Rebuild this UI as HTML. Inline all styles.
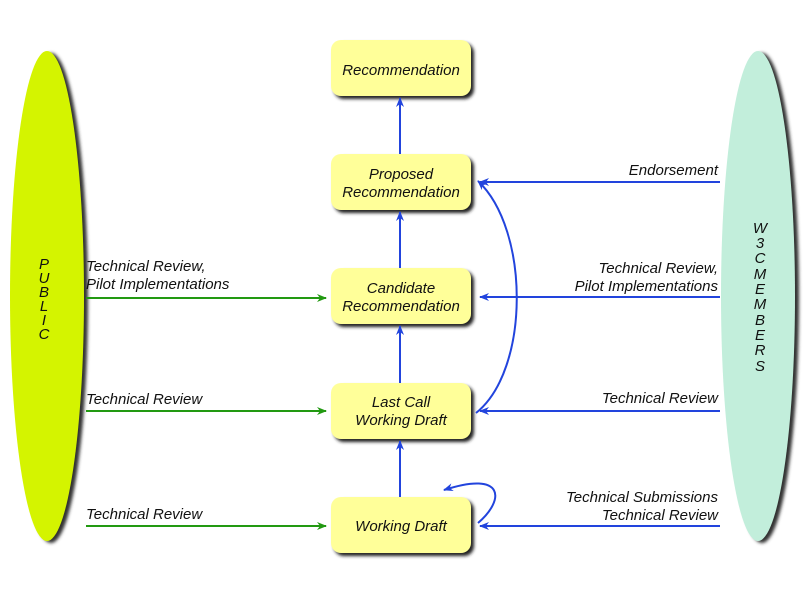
<!DOCTYPE html>
<html><head><style>
body{margin:0;background:#fff;width:803px;height:590px;overflow:hidden}
svg text{font-family:"Liberation Sans",sans-serif;font-style:italic;font-size:15px;fill:#111}
</style></head><body>
<svg width="803" height="590" viewBox="0 0 803 590">
<defs>
<marker id="b" markerWidth="10" markerHeight="10" refX="9" refY="5" orient="auto" markerUnits="userSpaceOnUse"><path d="M0,1 L10,5 L0,9 L3,5 z" fill="#2244dd"/></marker>
<marker id="g" markerWidth="10" markerHeight="10" refX="9" refY="5" orient="auto" markerUnits="userSpaceOnUse"><path d="M0,1 L10,5 L0,9 L3,5 z" fill="#229911"/></marker>
<filter id="s" x="-20%" y="-20%" width="140%" height="140%"><feGaussianBlur stdDeviation="1.5"/></filter>
</defs>
<ellipse cx="51" cy="298" rx="37" ry="245" fill="#333" filter="url(#s)"/>
<ellipse cx="47" cy="296" rx="37" ry="245" fill="#d4f400"/>
<ellipse cx="762" cy="298" rx="37" ry="245" fill="#333" filter="url(#s)"/>
<ellipse cx="758" cy="296" rx="37" ry="245" fill="#c2eedb"/>
<g text-anchor="middle">
<text x="44" y="269">P</text><text x="44" y="283">U</text><text x="44" y="297">B</text><text x="44" y="311">L</text><text x="44" y="325">I</text><text x="44" y="339">C</text>
<text x="760" y="233">W</text><text x="760" y="248">3</text><text x="760" y="263">C</text><text x="760" y="279">M</text><text x="760" y="294">E</text><text x="760" y="309">M</text><text x="760" y="325">B</text><text x="760" y="340">E</text><text x="760" y="355">R</text><text x="760" y="371">S</text>
</g>
<g>
<rect x="334" y="43" width="140" height="56" rx="10" fill="#222" filter="url(#s)"/>
<rect x="331" y="40" width="140" height="56" rx="10" fill="#ffff99"/>
<rect x="334" y="157" width="140" height="56" rx="10" fill="#222" filter="url(#s)"/>
<rect x="331" y="154" width="140" height="56" rx="10" fill="#ffff99"/>
<rect x="334" y="271" width="140" height="56" rx="10" fill="#222" filter="url(#s)"/>
<rect x="331" y="268" width="140" height="56" rx="10" fill="#ffff99"/>
<rect x="334" y="386" width="140" height="56" rx="10" fill="#222" filter="url(#s)"/>
<rect x="331" y="383" width="140" height="56" rx="10" fill="#ffff99"/>
<rect x="334" y="500" width="140" height="56" rx="10" fill="#222" filter="url(#s)"/>
<rect x="331" y="497" width="140" height="56" rx="10" fill="#ffff99"/>
</g>
<g text-anchor="middle">
<text x="401" y="75">Recommendation</text>
<text x="401" y="179">Proposed</text><text x="401" y="197">Recommendation</text>
<text x="401" y="293">Candidate</text><text x="401" y="311">Recommendation</text>
<text x="401" y="407">Last Call</text><text x="401" y="425">Working Draft</text>
<text x="401" y="531">Working Draft</text>
</g>
<g stroke="#2244dd" stroke-width="2" fill="none" marker-end="url(#b)">
<line x1="400" y1="154" x2="400" y2="98"/>
<line x1="400" y1="268" x2="400" y2="212"/>
<line x1="400" y1="383" x2="400" y2="326"/>
<line x1="400" y1="497" x2="400" y2="441"/>
<line x1="720" y1="182" x2="480" y2="182"/>
<line x1="720" y1="297" x2="480" y2="297"/>
<line x1="720" y1="411" x2="480" y2="411"/>
<line x1="720" y1="526" x2="480" y2="526"/>
<path d="M476,413 C530,370 530,230 478,181"/>
<path d="M478,523 C505,500 505,470 444,490"/>
</g>
<g stroke="#229911" stroke-width="2" fill="none" marker-end="url(#g)">
<line x1="86" y1="298" x2="326" y2="298"/>
<line x1="86" y1="411" x2="326" y2="411"/>
<line x1="86" y1="526" x2="326" y2="526"/>
</g>
<text x="86" y="271">Technical Review,</text>
<text x="86" y="289">Pilot Implementations</text>
<text x="86" y="404">Technical Review</text>
<text x="86" y="519">Technical Review</text>
<g text-anchor="end">
<text x="718" y="175">Endorsement</text>
<text x="718" y="273">Technical Review,</text>
<text x="718" y="291">Pilot Implementations</text>
<text x="718" y="403">Technical Review</text>
<text x="718" y="502">Technical Submissions</text>
<text x="718" y="520">Technical Review</text>
</g>
</svg>
</body></html>
